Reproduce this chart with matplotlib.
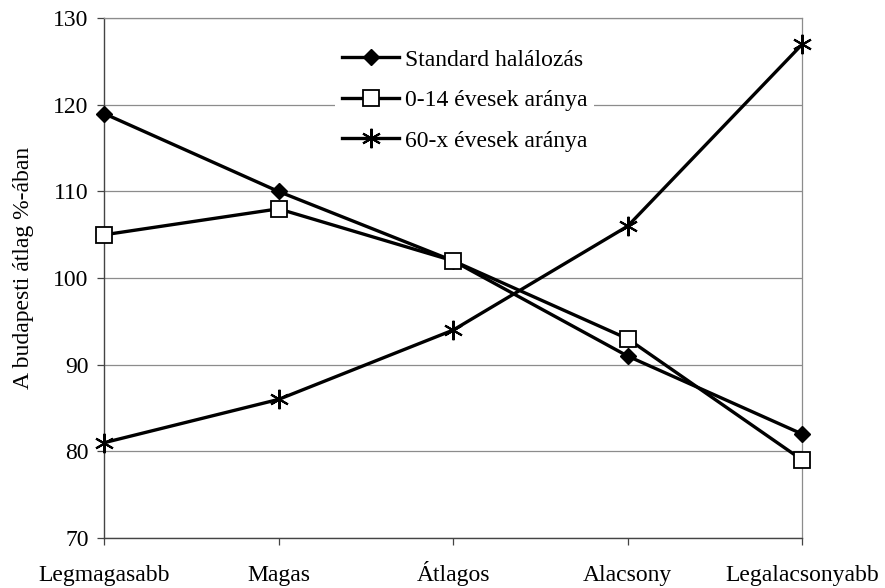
import numpy as np
import matplotlib.pyplot as plt

plt.rcParams['font.family'] = ['Liberation Serif', 'DejaVu Serif']

categories = ['Legmagasabb', 'Magas', 'Átlagos', 'Alacsony', 'Legalacsonyabb']
standard = [119, 110, 102, 91, 82]
young = [105, 108, 102, 93, 79]
old = [81, 86, 94, 106, 127]

x = np.arange(len(categories))
fs = 17

fig = plt.figure(figsize=(8.85, 5.88), dpi=100)
ax = fig.add_axes([0.1175, 0.085, 0.789, 0.884])

ax.plot(x, standard, color='black', lw=2.4, marker='D', ms=8,
        mfc='black', mec='black', label='Standard halálozás', zorder=4, clip_on=False)
ax.plot(x, young, color='black', lw=2.4, marker='s', ms=12,
        mfc='white', mec='black', mew=1.3, label='0-14 évesek aránya', zorder=4, clip_on=False)
ax.plot(x, old, color='black', lw=2.4, marker=(6, 2, 0), ms=14,
        mec='black', mew=1.5, label='60-x évesek aránya', zorder=4, clip_on=False)

ax.set_xlim(0, len(categories) - 1)
ax.set_ylim(70, 130)
ax.set_yticks(range(70, 131, 10))
ax.set_xticks(x)
ax.set_xticklabels(categories)
ax.yaxis.grid(True, color='#8c8c8c', lw=0.9)
ax.set_axisbelow(True)

for side in ['top', 'right']:
    ax.spines[side].set_color('#8c8c8c')
    ax.spines[side].set_linewidth(0.9)
for side in ['left', 'bottom']:
    ax.spines[side].set_color('#444444')
    ax.spines[side].set_linewidth(1.0)

ax.tick_params(axis='both', labelsize=fs, length=5, width=0.9, color='#444444')
ax.tick_params(axis='x', pad=26)
ax.tick_params(axis='y', pad=6)
for lbl in ax.get_xticklabels():
    lbl.set_verticalalignment('baseline')
ax.set_ylabel('A budapesti átlag %-ában', fontsize=fs)
ax.yaxis.set_label_coords(-0.100, 0.52)

leg = ax.legend(loc='upper left', bbox_to_anchor=(0.331, 0.954), frameon=True,
                fontsize=fs, handlelength=2.4, labelspacing=0.8,
                handletextpad=0.25, borderpad=0.3, borderaxespad=0)
leg.get_frame().set_edgecolor('none')
leg.get_frame().set_facecolor('white')
leg.get_frame().set_alpha(1)

fig.savefig('out.png', dpi=100, facecolor='white')
